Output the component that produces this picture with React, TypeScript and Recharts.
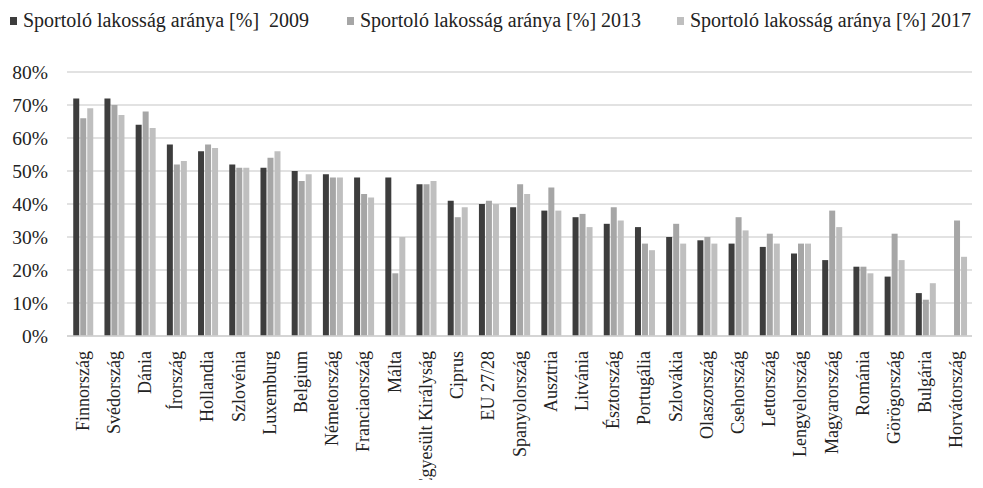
import React from 'react';
import {
  BarChart,
  Bar,
  XAxis,
  YAxis,
  CartesianGrid,
  Legend,
} from 'recharts';

const countries = [
  'Finnország', 'Svédország', 'Dánia', 'Írország', 'Hollandia', 'Szlovénia',
  'Luxemburg', 'Belgium', 'Németország', 'Franciaország', 'Málta',
  'Egyesült Királyság', 'Ciprus', 'EU 27/28', 'Spanyolország', 'Ausztria',
  'Litvánia', 'Észtország', 'Portugália', 'Szlovákia', 'Olaszország',
  'Csehország', 'Lettország', 'Lengyelország', 'Magyarország', 'Románia',
  'Görögország', 'Bulgária', 'Horvátország',
];

const share2009 = [
  72, 72, 64, 58, 56, 52, 51, 50, 49, 48, 48, 46, 41, 40, 39, 38, 36, 34, 33,
  30, 29, 28, 27, 25, 23, 21, 18, 13, null,
];
const share2013 = [
  66, 70, 68, 52, 58, 51, 54, 47, 48, 43, 19, 46, 36, 41, 46, 45, 37, 39, 28,
  34, 30, 36, 31, 28, 38, 21, 31, 11, 35,
];
const share2017 = [
  69, 67, 63, 53, 57, 51, 56, 49, 48, 42, 30, 47, 39, 40, 43, 38, 33, 35, 26,
  28, 28, 32, 28, 28, 33, 19, 23, 16, 24,
];

const yTicks = [0, 10, 20, 30, 40, 50, 60, 70, 80];

const series = [
  { key: 'y2009', name: 'Sportoló lakosság aránya [%]  2009', color: '#3d3d3d' },
  { key: 'y2013', name: 'Sportoló lakosság aránya [%] 2013', color: '#a6a6a6' },
  { key: 'y2017', name: 'Sportoló lakosság aránya [%] 2017', color: '#bfbfbf' },
];

const data = countries.map((name, i) => ({
  name,
  y2009: share2009[i],
  y2013: share2013[i],
  y2017: share2017[i],
}));

const FONT = 'Liberation Serif';
const TEXT = '#222';

// country names run bottom-to-top under each group
function RotatedTick(props: any) {
  const { x, y, payload } = props;
  return (
    <text
      x={x}
      y={y}
      transform={`rotate(-90, ${x}, ${y})`}
      dx={-7}
      dy={6}
      textAnchor="end"
      style={{ fontFamily: FONT, fontSize: 18 }}
      fill={TEXT}
    >
      {payload.value}
    </text>
  );
}

function PercentTick(props: any) {
  const { x, y, payload } = props;
  return (
    <text x={x} y={y} dx={-11} dy={7} textAnchor="end" style={{ fontFamily: FONT, fontSize: 19.5 }} fill={TEXT}>
      {`${payload.value}%`}
    </text>
  );
}

function TopLegend() {
  const offsets = [10, 347, 677];
  return (
    <div style={{ position: 'relative', height: 30, fontFamily: FONT, fontSize: 20, color: TEXT }}>
      {series.map((s, i) => (
        <div
          key={s.key}
          style={{ position: 'absolute', left: offsets[i], top: 9, display: 'flex', alignItems: 'center', whiteSpace: 'pre' }}
        >
          <span style={{ display: 'inline-block', width: 7, height: 8, background: s.color, marginRight: 6 }} />
          <span>{s.name}</span>
        </div>
      ))}
    </div>
  );
}

export default function App() {
  return (
    <div style={{ margin: -8, width: 983, height: 488, background: '#fff', overflow: 'hidden' }}>
      <BarChart
        width={983}
        height={488}
        data={data}
        margin={{ top: 42, right: 11, bottom: 0, left: 0 }}
        barCategoryGap="20%"
        barGap={1}
      >
        <Legend
          verticalAlign="top"
          height={30}
          content={() => <TopLegend />}
          wrapperStyle={{ position: 'absolute', top: 0, left: 0, width: 983 }}
        />
        <CartesianGrid vertical={false} stroke="#d9d9d9" strokeWidth={1.5} />
        <XAxis
          dataKey="name"
          interval={0}
          height={152}
          tick={<RotatedTick />}
          tickLine={false}
          axisLine={{ stroke: '#d0d0d0', strokeWidth: 1.5 }}
        />
        <YAxis
          domain={[0, 80]}
          ticks={yTicks}
          width={67}
          tick={<PercentTick />}
          tickLine={false}
          axisLine={false}
        />
        {series.map((s) => (
          <Bar key={s.key} dataKey={s.key} name={s.name} fill={s.color} isAnimationActive={false} />
        ))}
      </BarChart>
    </div>
  );
}
